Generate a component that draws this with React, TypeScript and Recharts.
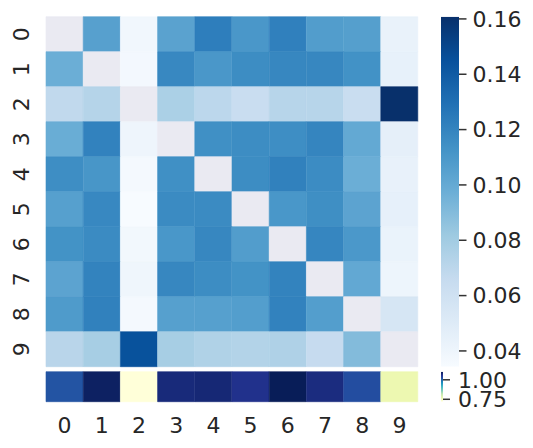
import { BarChart, Bar, Cell, XAxis, YAxis } from 'recharts'

const LABELS = ['0', '1', '2', '3', '4', '5', '6', '7', '8', '9']

// rows top to bottom, null = masked diagonal
const CORR: (number | null)[][] = [
  [null, 0.1053, 0.0381, 0.1041, 0.123, 0.1103, 0.122, 0.1072, 0.106, 0.0432],
  [0.0976, null, 0.0368, 0.1182, 0.1103, 0.1158, 0.1187, 0.1187, 0.1134, 0.0444],
  [0.0679, 0.0726, null, 0.0766, 0.0698, 0.0639, 0.0719, 0.0719, 0.0639, 0.1608],
  [0.0983, 0.1211, 0.04, null, 0.1144, 0.1158, 0.1154, 0.1196, 0.1006, 0.0457],
  [0.1154, 0.1111, 0.0362, 0.1144, null, 0.1158, 0.1215, 0.1162, 0.0976, 0.0438],
  [0.1056, 0.1182, 0.0343, 0.1167, 0.1167, null, 0.1106, 0.1149, 0.1035, 0.0451],
  [0.113, 0.1167, 0.0375, 0.1106, 0.1187, 0.1072, null, 0.1191, 0.1097, 0.0425],
  [0.1035, 0.1206, 0.0394, 0.1187, 0.1158, 0.113, 0.1206, null, 0.101, 0.0406],
  [0.1083, 0.1215, 0.0362, 0.1056, 0.1056, 0.1068, 0.1211, 0.1068, null, 0.0554],
  [0.0711, 0.0782, 0.1447, 0.0782, 0.0746, 0.0733, 0.075, 0.0659, 0.09, null],
]

const STRIP = [1.019, 1.096, 0.719, 1.077, 1.081, 1.062, 1.104, 1.073, 1.027, 0.767]

const MAIN_TICKS = [0.04, 0.06, 0.08, 0.1, 0.12, 0.14, 0.16]
const STRIP_TICKS = [0.75, 1.0]

const VMIN = 0.0343
const VMAX = 0.1608
const SMIN = 0.719
const SMAX = 1.104

const BLUES = ['#f7fbff', '#deebf7', '#c6dbef', '#9ecae1', '#6baed6', '#4292c6', '#2171b5', '#08519c', '#08306b']
const YLGNBU = ['#ffffd9', '#edf8b1', '#c7e9b4', '#7fcdbb', '#41b6c4', '#1d91c0', '#225ea8', '#253494', '#081d58']

const NAN_COLOR = '#eaeaf2'
const TEXT = '#262626'
const FONT = 'DejaVu Sans'

function hex(h: string) {
  return [1, 3, 5].map((i) => parseInt(h.slice(i, i + 2), 16))
}

function cmap(stops: string[], v: number | null, lo: number, hi: number) {
  if (v === null) return NAN_COLOR
  let t = (v - lo) / (hi - lo)
  t = Math.max(0, Math.min(1, t))
  const pos = t * (stops.length - 1)
  const i = Math.min(Math.floor(pos), stops.length - 2)
  const f = pos - i
  const a = hex(stops[i])
  const b = hex(stops[i + 1])
  const c = a.map((x, k) => Math.round(x + (b[k] - x) * f))
  return `rgb(${c[0]},${c[1]},${c[2]})`
}

const mainData = LABELS.map((col) => {
  const d: Record<string, string | number> = { col }
  LABELS.forEach((_, r) => (d[`r${r}`] = 1))
  return d
})

const stripData = LABELS.map((col) => ({ col, one: 1 }))

const YTick = ({ y, payload }: any) => {
  const label = LABELS[Math.floor(payload.value)]
  return (
    <text
      x={29.5}
      y={y}
      transform={`rotate(-90, 29.5, ${y})`}
      textAnchor="middle"
      fill={TEXT}
      fontSize={22}
      fontFamily={FONT}
    >
      {label}
    </text>
  )
}

const XTick = ({ x, y, payload }: any) => (
  <text x={x} y={y + 31.5} textAnchor="middle" fill={TEXT} fontSize={22} fontFamily={FONT}>
    {payload.value}
  </text>
)

const cbTick = { fill: TEXT, fontSize: 22, fontFamily: FONT }
const cbLine = { stroke: '#333', strokeWidth: 1.5 }

export default function App() {
  return (
    <div style={{ position: 'absolute', left: 0, top: 0, width: 533, height: 448, background: '#fff' }}>
      <div style={{ position: 'absolute', left: 0, top: 0 }}>
        <BarChart
          width={430}
          height={380}
          data={mainData}
          margin={{ top: 16.7, right: 12, bottom: 13.3, left: 0 }}
          barCategoryGap={0}
          barGap={0}
        >
          <XAxis dataKey="col" hide />
          <YAxis
            type="number"
            domain={[0, 10]}
            reversed
            width={46}
            ticks={[0.5, 1.5, 2.5, 3.5, 4.5, 5.5, 6.5, 7.5, 8.5, 9.5]}
            interval={0}
            tick={<YTick />}
            tickLine={false}
            axisLine={false}
          />
          {LABELS.map((_, r) => (
            <Bar key={r} dataKey={`r${r}`} stackId="a" isAnimationActive={false}>
              {LABELS.map((__, c) => {
                const fill = cmap(BLUES, CORR[r][c], VMIN, VMAX)
                return <Cell key={c} fill={fill} stroke={fill} strokeWidth={0.6} />
              })}
            </Bar>
          ))}
        </BarChart>
      </div>

      <div style={{ position: 'absolute', left: 0, top: 360 }}>
        <BarChart
          width={430}
          height={88}
          data={stripData}
          margin={{ top: 11.7, right: 12, bottom: 0, left: 46 }}
          barCategoryGap={0}
          barGap={0}
        >
          <XAxis
            dataKey="col"
            height={46.3}
            interval={0}
            tick={<XTick />}
            tickSize={0}
            tickMargin={0}
            tickLine={false}
            axisLine={false}
          />
          <YAxis type="number" domain={[0, 1]} hide />
          <Bar dataKey="one" isAnimationActive={false}>
            {STRIP.map((v, c) => {
              const fill = cmap(YLGNBU, v, SMIN, SMAX)
              return <Cell key={c} fill={fill} stroke={fill} strokeWidth={0.6} />
            })}
          </Bar>
        </BarChart>
      </div>

      <div style={{ position: 'absolute', left: 430, top: 0 }}>
        <BarChart
          width={103}
          height={380}
          data={[{ name: 'cb', range: [VMIN, VMAX] }]}
          margin={{ top: 16.7, right: 0, bottom: 13.3, left: 11 }}
          barCategoryGap={0}
        >
          <defs>
            <linearGradient id="bluesGrad" x1="0" y1="1" x2="0" y2="0">
              {BLUES.map((c, i) => (
                <stop key={i} offset={`${(i / (BLUES.length - 1)) * 100}%`} stopColor={c} />
              ))}
            </linearGradient>
          </defs>
          <XAxis dataKey="name" hide />
          <YAxis
            type="number"
            orientation="right"
            domain={[VMIN, VMAX]}
            allowDataOverflow
            ticks={MAIN_TICKS}
            interval={0}
            width={74}
            tickFormatter={(v: number) => v.toFixed(2)}
            tick={cbTick}
            tickLine={cbLine}
            tickSize={7.5}
            tickMargin={6}
            axisLine={false}
          />
          <Bar dataKey="range" fill="url(#bluesGrad)" isAnimationActive={false} />
        </BarChart>
      </div>

      <div style={{ position: 'absolute', left: 430, top: 360 }}>
        <BarChart
          width={103}
          height={88}
          data={[{ name: 'cb2', range: [SMIN, SMAX] }]}
          margin={{ top: 11.7, right: 0, bottom: 46.3, left: 11 }}
          barCategoryGap={0}
        >
          <defs>
            <linearGradient id="ylgnbuGrad" x1="0" y1="1" x2="0" y2="0">
              {YLGNBU.map((c, i) => (
                <stop key={i} offset={`${(i / (YLGNBU.length - 1)) * 100}%`} stopColor={c} />
              ))}
            </linearGradient>
          </defs>
          <XAxis dataKey="name" hide />
          <YAxis
            type="number"
            orientation="right"
            domain={[SMIN, SMAX]}
            allowDataOverflow
            ticks={STRIP_TICKS}
            interval={0}
            width={90}
            tickFormatter={(v: number) => v.toFixed(2)}
            tick={cbTick}
            tickLine={cbLine}
            tickSize={7}
            tickMargin={8}
            axisLine={false}
          />
          <Bar dataKey="range" fill="url(#ylgnbuGrad)" isAnimationActive={false} />
        </BarChart>
      </div>
    </div>
  )
}
